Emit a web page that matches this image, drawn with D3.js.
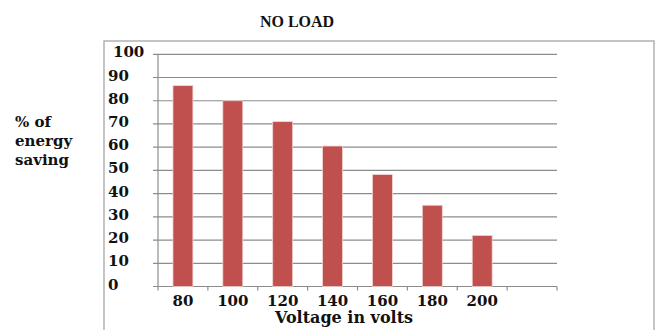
<!DOCTYPE html>
<html><head><meta charset="utf-8">
<script src="https://cdn.jsdelivr.net/npm/d3@7"></script>
<style>body{margin:0;background:#fff}svg{display:block}</style>
</head><body>
<svg id="c" width="660" height="330"></svg>
<script>
const categories = ["80","100","120","140","160","180","200",""];
const values = [86.5, 80, 71, 60.5, 48.2, 35, 22, null];
const yTicks = [0,10,20,30,40,50,60,70,80,90,100];
const title = "NO LOAD";
const xTitle = "Voltage in volts";
const yTitle = ["% of","energy","saving"];

const svg = d3.select("#c");
const font = "'DejaVu Serif', serif";
const x0 = 158, x1 = 557, yTop = 54.3, yBot = 286.5;

svg.append("rect").attr("x",104).attr("y",41).attr("width",550).attr("height",300)
  .attr("fill","none").attr("stroke","#a6a6a6").attr("stroke-width",1.3);

const x = d3.scaleBand().domain(categories.map((d,i)=>i)).range([x0,x1]).paddingInner(0.6).paddingOuter(0.3);
const y = d3.scaleLinear().domain([0,100]).range([yBot,yTop]);

// gridlines
svg.append("g").selectAll("line").data(yTicks).join("line")
  .attr("x1",x0-5).attr("x2",x1).attr("y1",d=>y(d)).attr("y2",d=>y(d))
  .attr("stroke","#8c8c8c").attr("stroke-width",1.2);

// y axis line
svg.append("line").attr("x1",x0).attr("x2",x0).attr("y1",yTop).attr("y2",yBot)
  .attr("stroke","#8c8c8c").attr("stroke-width",1.2);

// x ticks at band boundaries
const step = (x1-x0)/categories.length;
svg.append("g").selectAll("line").data(d3.range(categories.length+1)).join("line")
  .attr("x1",i=>x0+i*step).attr("x2",i=>x0+i*step).attr("y1",yBot).attr("y2",yBot+4)
  .attr("stroke","#8c8c8c").attr("stroke-width",1.2);

// bars
svg.append("g").selectAll("rect").data(values.map((v,i)=>({v,i})).filter(d=>d.v!=null)).join("rect")
  .attr("x",d=>x(d.i)).attr("width",x.bandwidth())
  .attr("y",d=>y(d.v)).attr("height",d=>yBot-y(d.v))
  .attr("fill","#c0504d").attr("stroke","#f2d4d3").attr("stroke-width",0.8);

// y tick labels
svg.append("g").selectAll("text").data(yTicks).join("text")
  .attr("x",d=>d===100?113:108).attr("y",d=>y(d)+3)
  .attr("font-family",font).attr("font-weight","bold").attr("font-size",15)
  .attr("fill","#111").text(d=>d);

// x tick labels
svg.append("g").selectAll("text").data(categories.map((c,i)=>({c,i})).filter(d=>d.c)).join("text")
  .attr("x",d=>x(d.i)+x.bandwidth()/2).attr("y",305.5).attr("text-anchor","middle")
  .attr("font-family",font).attr("font-weight","bold").attr("font-size",15)
  .attr("fill","#111").text(d=>d.c);

// titles
svg.append("text").attr("x",297).attr("y",26.5).attr("text-anchor","middle")
  .attr("font-family","'Liberation Serif', serif").attr("font-weight","bold").attr("font-size",16)
  .attr("fill","#111").text(title);
svg.append("text").attr("x",344).attr("y",323).attr("text-anchor","middle")
  .attr("font-family",font).attr("font-weight","bold").attr("font-size",16)
  .attr("fill","#111").text(xTitle);
svg.append("g").selectAll("text").data(yTitle).join("text")
  .attr("x",15).attr("y",(d,i)=>127+i*19)
  .attr("font-family",font).attr("font-weight","bold").attr("font-size",15)
  .attr("fill","#111").text(d=>d);
</script>
</body></html>
